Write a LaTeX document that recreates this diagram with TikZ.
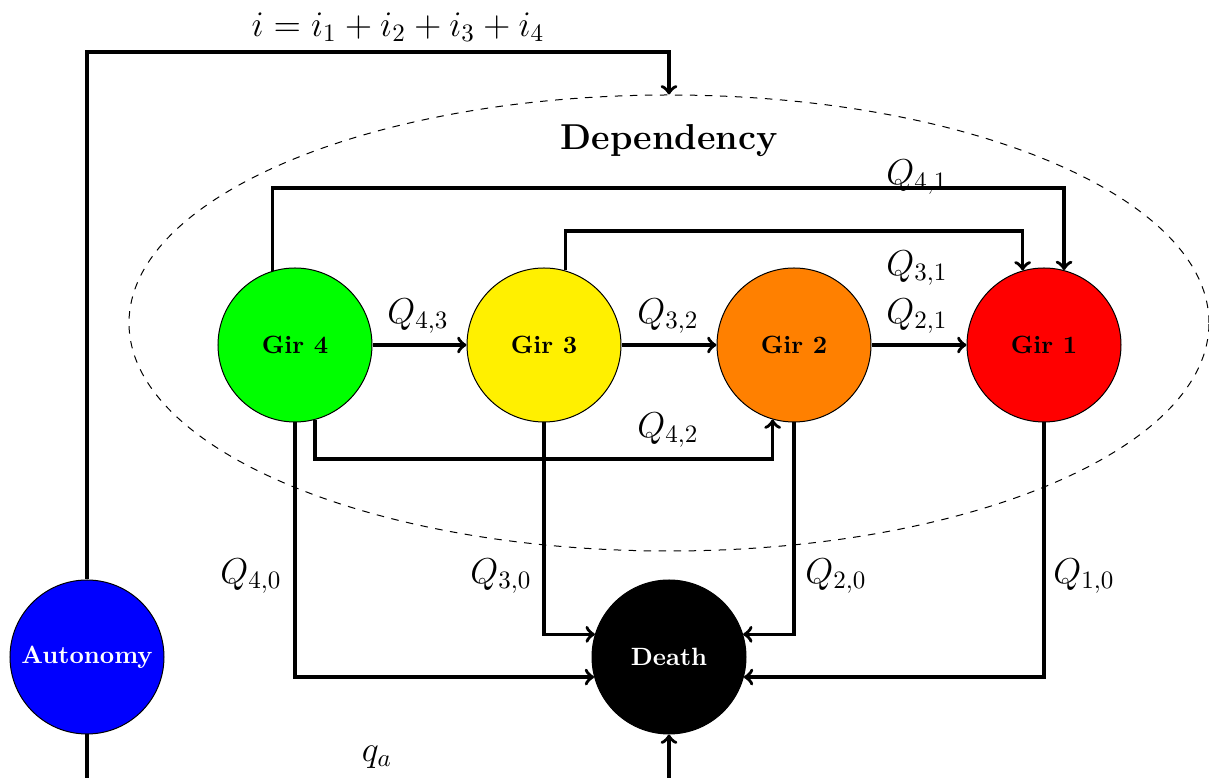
\documentclass[tikz,border=0pt]{standalone}
\usetikzlibrary{shapes.geometric}
\definecolor{girgreen}{RGB}{0,255,0}
\definecolor{giryellow}{RGB}{255,240,0}
\definecolor{girorange}{RGB}{255,128,0}
\definecolor{girred}{RGB}{255,0,0}
\definecolor{autoblue}{RGB}{0,0,255}
\begin{document}
\begin{tikzpicture}[x=0.4pt,y=-0.4pt,
  state/.style={circle,draw=black,line width=0.4pt,minimum size=61.6pt,inner sep=0pt,font=\bfseries},
  conn/.style={line width=1.4pt,->},
  lbl/.style={font=\Large,inner sep=0pt}]
\clip (0,0) rectangle (1209,778);
\useasboundingbox (0,0) rectangle (1209,778);
% dependency ellipse
\node[ellipse,draw,dashed,line width=0.4pt,minimum width=432pt,minimum height=182.4pt,inner sep=0pt] (dep) at (669,323) {};
\node[font=\Large\bfseries] (deplbl) at (669,141) {Dependency};
% states
\node[state,fill=girgreen] (g4) at (295,345) {Gir 4};
\node[state,fill=giryellow] (g3) at (544,345) {Gir 3};
\node[state,fill=girorange] (g2) at (794,345) {Gir 2};
\node[state,fill=girred] (g1) at (1044,345) {Gir 1};
\node[state,fill=autoblue,text=white] (auto) at (87,657) {Autonomy};
\node[state,fill=black,text=white] (death) at (669,657) {Death};
% helper coordinates
\coordinate (top) at (400,52);
\coordinate (h41) at (669,188);
\coordinate (h31) at (669,231);
\coordinate (h42) at (669,459);
\coordinate (bot) at (400,820);
% connectors
\draw[conn] (auto.north) |- (top) -| (dep.north);
\draw[conn] (g4) -- (g3);
\draw[conn] (g3) -- (g2);
\draw[conn] (g2) -- (g1);
\draw[conn] (g4.107) |- (h41) -| (g1.75);
\draw[conn] (g3.74) |- (h31) -| (g1.106);
\draw[conn] (g4.285) |- (h42) -| (g2.254);
\draw[conn] (g4.south) |- (death.195);
\draw[conn] (g3.south) |- (death.163);
\draw[conn] (g2.south) |- (death.17);
\draw[conn] (g1.south) |- (death.345);
\draw[conn] (auto.south) |- (bot) -| (death.south);
% labels
\node[lbl] at (398,27) {$i=i_1+i_2+i_3+i_4$};
\node[lbl] at (917,177) {$Q_{4,1}$};
\node[lbl] at (917,268) {$Q_{3,1}$};
\node[lbl] at (917,316) {$Q_{2,1}$};
\node[lbl] at (418,316) {$Q_{4,3}$};
\node[lbl] at (668,316) {$Q_{3,2}$};
\node[lbl] at (668,430) {$Q_{4,2}$};
\node[lbl] at (251,576) {$Q_{4,0}$};
\node[lbl] at (501,576) {$Q_{3,0}$};
\node[lbl] at (836,576) {$Q_{2,0}$};
\node[lbl] at (1084,576) {$Q_{1,0}$};
\node[lbl] at (377,757) {$q_a$};
\end{tikzpicture}
\end{document}
